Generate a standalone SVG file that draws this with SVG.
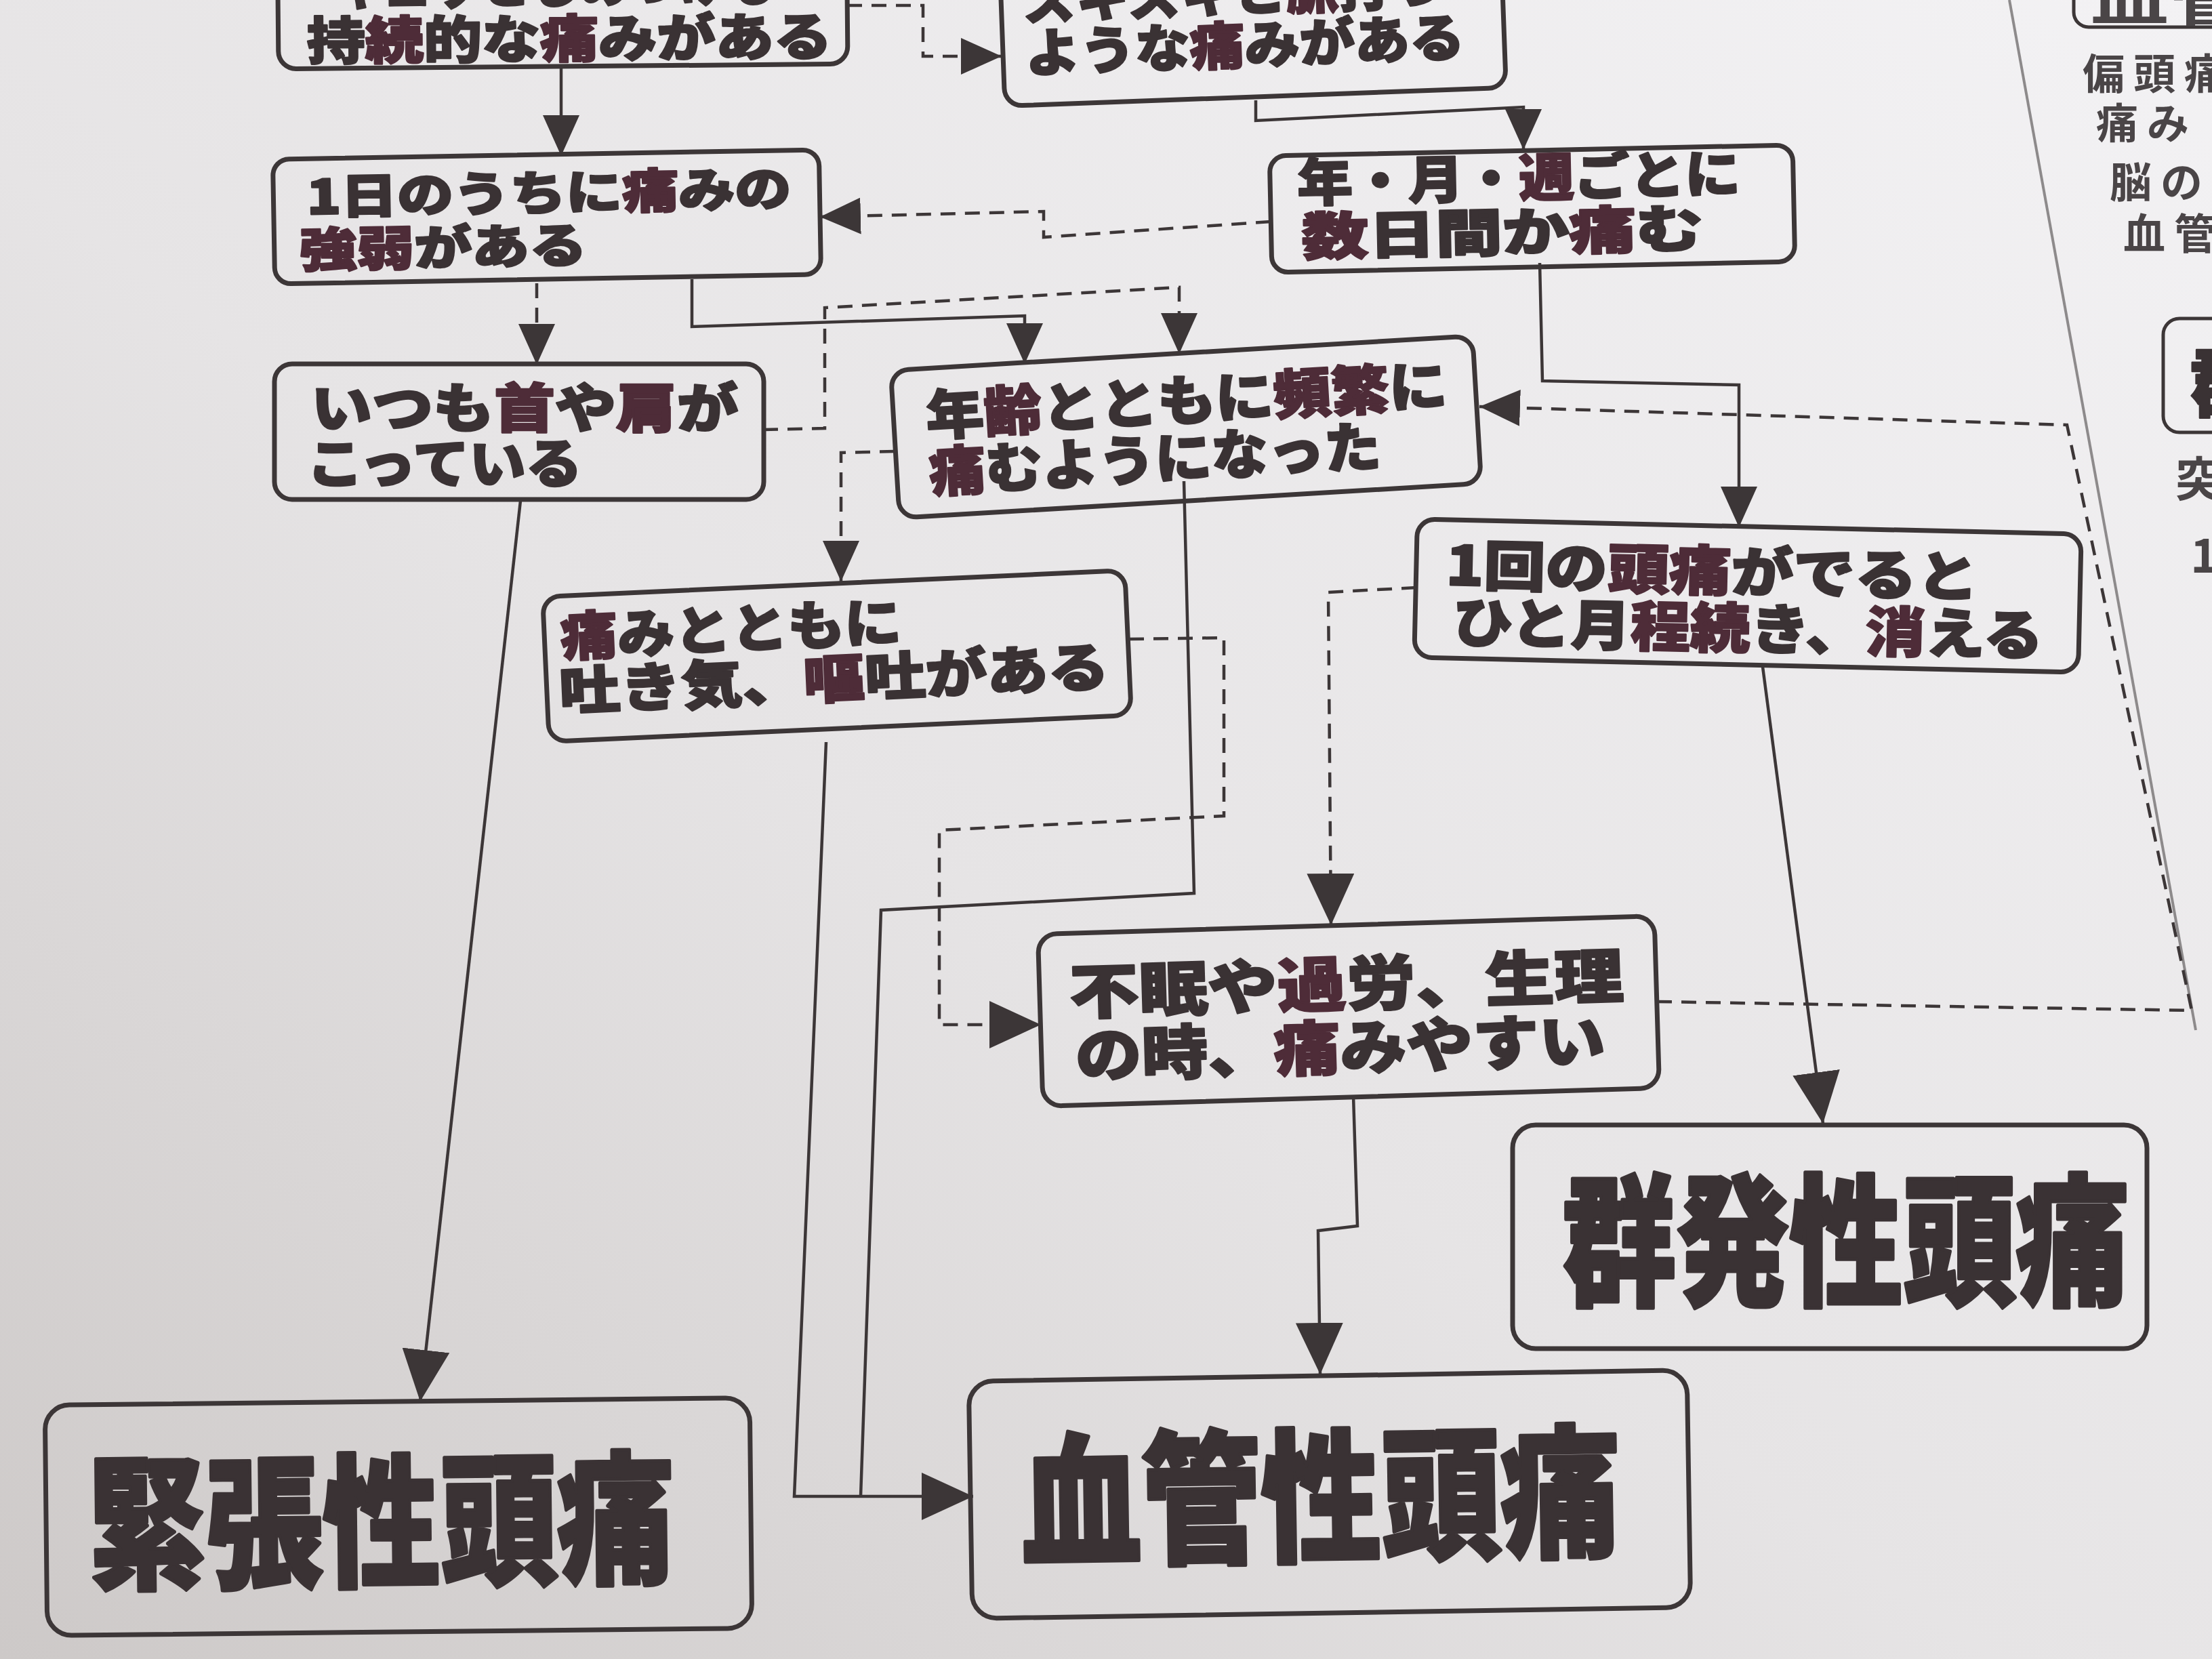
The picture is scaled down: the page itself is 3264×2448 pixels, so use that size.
<svg xmlns="http://www.w3.org/2000/svg" width="3264" height="2448" viewBox="0 0 3264 2448">
<defs>
<linearGradient id="paper" x1="1" y1="0" x2="0" y2="1">
<stop offset="0" stop-color="#f3f2f4"/>
<stop offset="0.55" stop-color="#e6e4e5"/>
<stop offset="1" stop-color="#cdc9c8"/>
</linearGradient>
<marker id="ah" viewBox="0 0 60 54" refX="60" refY="27" markerWidth="60" markerHeight="54" markerUnits="userSpaceOnUse" orient="auto"><path d="M0,0 L60,27 L0,54 z" fill="#3c3637"/></marker>
<marker id="ahL" viewBox="0 0 76 70" refX="76" refY="35" markerWidth="76" markerHeight="70" markerUnits="userSpaceOnUse" orient="auto"><path d="M0,0 L76,35 L0,70 z" fill="#3c3637"/></marker>
<style>
.box{fill:none;stroke:#3c3637;stroke-width:7}
.t{font-family:"Noto Sans CJK JP","Noto Sans CJK SC",sans-serif;font-weight:900;fill:#3a3234;stroke:#3a3234;stroke-width:2.5;stroke-linejoin:round}
.big{stroke-width:5}
.m{fill:#4e2c38;stroke:#4e2c38}
.ln{fill:none;stroke:#3c3637;stroke-width:4.5;stroke-linejoin:miter}
.d{stroke-dasharray:22 14}
.side{font-family:"Noto Sans CJK JP","Noto Sans CJK SC",sans-serif;font-weight:700;fill:#4a4547}
</style>
</defs>
<rect width="3264" height="2448" fill="url(#paper)"/>
<line x1="2965" y1="0" x2="3240" y2="1520" stroke="#8d8a8b" stroke-width="4"/>

<g id="connectors">
<path class="ln" d="M828,98 L828,230" marker-end="url(#ah)"/>
<path class="ln" d="M1853,148 L1853,178 L2248,158 L2248,221" marker-end="url(#ah)"/>
<path class="ln" d="M1021,412 L1021,482 L1512,466 L1512,537" marker-end="url(#ah)"/>
<path class="ln" d="M2272,388 L2276,562 L2566,568 L2566,778" marker-end="url(#ah)"/>
<path class="ln" d="M768,739 L620,2068" marker-end="url(#ahL)"/>
<path class="ln" d="M2601,984 L2690,1658" marker-end="url(#ahL)"/>
<path class="ln" d="M1997,1617 L2003,1809 L1945,1816 L1948,2028" marker-end="url(#ahL)"/>
<path class="ln" d="M1219,1095 L1172,2208 L1436,2208" marker-end="url(#ahL)"/>
<path class="ln" d="M1747,710 L1762,1318 L1300,1343 L1270,2208"/>
<path class="ln d" d="M1250,8 L1362,8 L1362,83 L1478,83" marker-end="url(#ah)"/>
<path class="ln d" d="M1875,327 L1540,350 L1540,312 L1210,320" marker-end="url(#ah)"/>
<path class="ln d" d="M792,418 L792,538" marker-end="url(#ah)"/>
<path class="ln d" d="M1126,634 L1217,632 L1217,454 L1740,424 L1740,522" marker-end="url(#ah)"/>
<path class="ln d" d="M1320,666 L1241,668 L1241,858" marker-end="url(#ah)"/>
<path class="ln d" d="M1666,943 L1806,941 L1806,1204 L1386,1225 L1386,1512 L1536,1512" marker-end="url(#ahL)"/>
<path class="ln d" d="M2090,867 L1960,874 L1964,1365" marker-end="url(#ahL)"/>
<path class="ln d" d="M2445,1478 L3234,1491 L3050,627 L2183,600" marker-end="url(#ah)"/>
</g>

<g id="n-a" transform="translate(830,-16) rotate(-0.5)">
<rect class="box" x="-420" y="-114" width="840" height="228" rx="26"/>
<text class="t" x="-338" y="20" font-size="76" textLength="654" lengthAdjust="spacingAndGlyphs">ギュッとしめつける</text>
<text class="t" x="-378" y="101" font-size="76" textLength="775" lengthAdjust="spacingAndGlyphs">持<tspan class="m">続</tspan>的な<tspan class="m">痛</tspan>みがある</text>
</g>

<g id="n-b" transform="translate(1848,18) rotate(-2.1)">
<rect class="box" x="-370" y="-125" width="740" height="250" rx="26"/>
<text class="t" x="-337" y="-2" font-size="76" textLength="620" lengthAdjust="spacingAndGlyphs">ズキズキと<tspan class="m">脈</tspan>打つ</text>
<text class="t" x="-337" y="76" font-size="76" textLength="648" lengthAdjust="spacingAndGlyphs">ような<tspan class="m">痛</tspan>みがある</text>
</g>

<g id="n-c" transform="translate(807,320) rotate(-1)">
<rect class="box" x="-403" y="-92" width="806" height="184" rx="24"/>
<text class="t" x="-354" y="-10" font-size="70" textLength="715" lengthAdjust="spacingAndGlyphs">1日のうちに<tspan class="m">痛</tspan>みの</text>
<text class="t" x="-366" y="68" font-size="70" textLength="424" lengthAdjust="spacingAndGlyphs"><tspan class="m">強弱</tspan>がある</text>
</g>

<g id="n-d" transform="translate(2261,308) rotate(-1.2)">
<rect class="box" x="-386" y="-86" width="772" height="172" rx="24"/>
<text class="t" x="-346" y="-18" font-size="76" textLength="654" lengthAdjust="spacingAndGlyphs">年・月・<tspan class="m">週</tspan>ごとに</text>
<text class="t" x="-341" y="62" font-size="76" textLength="592" lengthAdjust="spacingAndGlyphs"><tspan class="m">数</tspan>日間か<tspan class="m">痛</tspan>む</text>
</g>

<g id="n-e" transform="translate(766,637)">
<rect class="box" x="-361" y="-100" width="722" height="200" rx="26"/>
<text class="t" x="-307" y="-6" font-size="78" textLength="630" lengthAdjust="spacingAndGlyphs">いつも<tspan class="m">首</tspan>や<tspan class="m">肩</tspan>が</text>
<text class="t" x="-313" y="76" font-size="78" textLength="406" lengthAdjust="spacingAndGlyphs">こっている</text>
</g>

<g id="n-f" transform="translate(1750,630) rotate(-3.4)">
<rect class="box" x="-430" y="-109" width="860" height="218" rx="26"/>
<text class="t" x="-382" y="-10" font-size="80" textLength="770" lengthAdjust="spacingAndGlyphs">年<tspan class="m">齢</tspan>とともに<tspan class="m">頻繁</tspan>に</text>
<text class="t" x="-382" y="74" font-size="80" textLength="667" lengthAdjust="spacingAndGlyphs"><tspan class="m">痛</tspan>むようになった</text>
</g>

<g id="n-g" transform="translate(2579,879) rotate(1.3)">
<rect class="box" x="-490" y="-102" width="980" height="204" rx="26"/>
<text class="t" x="-446" y="-6" font-size="80" textLength="786" lengthAdjust="spacingAndGlyphs">1回の<tspan class="m">頭痛</tspan>がでると</text>
<text class="t" x="-434" y="78" font-size="80" textLength="871" lengthAdjust="spacingAndGlyphs">ひと月<tspan class="m">程続</tspan>き、<tspan class="m">消</tspan>える</text>
</g>

<g id="n-h" transform="translate(1235,968) rotate(-2.6)">
<rect class="box" x="-430" y="-107" width="860" height="214" rx="26"/>
<text class="t" x="-406" y="-18" font-size="78" textLength="503" lengthAdjust="spacingAndGlyphs"><tspan class="m">痛</tspan>みとともに</text>
<text class="t" x="-412" y="62" font-size="78" textLength="812" lengthAdjust="spacingAndGlyphs">吐き気、<tspan class="m">嘔</tspan>吐がある</text>
</g>

<g id="n-i" transform="translate(1990,1492) rotate(-1.7)">
<rect class="box" x="-455" y="-127" width="910" height="254" rx="28"/>
<text class="t" x="-411" y="-8" font-size="88" textLength="818" lengthAdjust="spacingAndGlyphs">不眠や<tspan class="m">過</tspan>労、生理</text>
<text class="t" x="-405" y="86" font-size="88" textLength="782" lengthAdjust="spacingAndGlyphs">の時、<tspan class="m">痛</tspan>みやすい</text>
</g>

<g id="n-j" transform="translate(2700,1825)">
<rect class="box" x="-468" y="-165" width="936" height="330" rx="34"/>
<text class="t big" x="-394" y="85" font-size="210" textLength="836" lengthAdjust="spacingAndGlyphs">群発性頭痛</text>
</g>

<g id="n-k" transform="translate(588,2238) rotate(-0.6)">
<rect class="box" x="-520" y="-170" width="1040" height="340" rx="36"/>
<text class="t big" x="-458" y="86" font-size="212" textLength="865" lengthAdjust="spacingAndGlyphs">緊張性頭痛</text>
</g>

<g id="n-l" transform="translate(1962,2205) rotate(-0.9)">
<rect class="box" x="-530" y="-175" width="1060" height="350" rx="36"/>
<text class="t big" x="-455" y="82" font-size="212" textLength="884" lengthAdjust="spacingAndGlyphs">血管性頭痛</text>
</g>

<g id="side">
<rect x="3060" y="-70" width="320" height="110" rx="22" fill="none" stroke="#3c3637" stroke-width="5"/>
<text class="side" x="3085" y="30" font-size="80" textLength="230" lengthAdjust="spacingAndGlyphs">血管</text>
<text class="side" x="3073" y="132" font-size="62" letter-spacing="13">偏頭痛</text>
<text class="side" x="3093" y="205" font-size="62" letter-spacing="13">痛み</text>
<text class="side" x="3113" y="292" font-size="62" letter-spacing="13">脳の</text>
<text class="side" x="3133" y="368" font-size="62" letter-spacing="13">血管</text>
<rect x="3192" y="470" width="200" height="168" rx="24" fill="none" stroke="#3c3637" stroke-width="5"/>
<text class="t" x="3232" y="606" font-size="110">群</text>
<text class="side" x="3210" y="733" font-size="70">突</text>
<text class="side" x="3232" y="845" font-size="70">1</text>
</g>
</svg>
